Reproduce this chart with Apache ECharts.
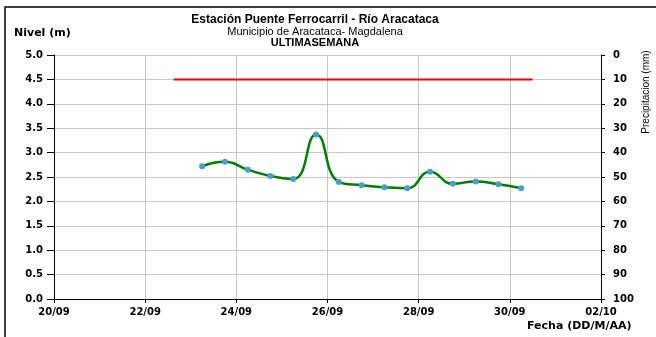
<!DOCTYPE html>
<html>
<head>
<meta charset="utf-8">
<script src="https://cdn.jsdelivr.net/npm/echarts@6/dist/echarts.min.js"></script>
<style>
  html, body { margin: 0; padding: 0; background: #fff; }
  #chart { width: 656px; height: 337px; }
</style>
</head>
<body>
<div id="chart"></div>
<script>
// nivel del rio cada 12 h
const levelTimes = ['23/09 06:00', '23/09 18:00', '24/09 06:00', '24/09 18:00', '25/09 06:00',
  '25/09 18:00', '26/09 06:00', '26/09 18:00', '27/09 06:00', '27/09 18:00',
  '28/09 06:00', '28/09 18:00', '29/09 06:00', '29/09 18:00', '30/09 06:00']
const levelValues = [2.72, 2.81, 2.65, 2.52, 2.46, 3.37, 2.40, 2.33, 2.29, 2.27, 2.61, 2.36, 2.41, 2.35, 2.27]

// linea roja (nivel de alerta)
const alertTimes = ['22/09 15:00', '30/09 12:00']
const alertValues = [4.5, 4.5]

const dateTicks = ['20/09', '22/09', '24/09', '26/09', '28/09', '30/09', '02/10']

// dias desde el 20/09
function toDays(s) {
  const [d, h] = s.split(' ')
  const [day, month] = d.split('/').map(Number)
  const [hh, mm] = h.split(':').map(Number)
  const base = month === 9 ? day - 20 : 10 + day
  return base + (hh + mm / 60) / 24
}

const FONT = 'DejaVu Sans'
const labelStyle = { color: '#000', fontFamily: FONT, fontWeight: 'bold', fontSize: 10 }

const chart = echarts.init(document.getElementById('chart'), null, { renderer: 'canvas' })
chart.setOption({
  animation: false,
  backgroundColor: '#fff',
  title: [
    { text: 'Estación Puente Ferrocarril - Río Aracataca', left: 310, top: 9, textAlign: 'center',
      textStyle: { fontFamily: 'Liberation Sans', fontWeight: 'bold', fontSize: 12, color: '#000' } },
    { text: 'Municipio de Aracataca- Magdalena', left: 310, top: 21, textAlign: 'center',
      textStyle: { fontFamily: 'Liberation Sans', fontWeight: 'normal', fontSize: 11, color: '#000' } },
    { text: 'ULTIMASEMANA', left: 310, top: 32, textAlign: 'center',
      textStyle: { fontFamily: 'Liberation Sans', fontWeight: 'bold', fontSize: 11, color: '#000' } }
  ],
  graphic: [
    { type: 'rect', shape: { x: 5, y: 7, width: 800, height: 500 },
      style: { fill: 'none', stroke: '#000', lineWidth: 1.5 }, silent: true },
    { type: 'text', left: 14, top: 28, style: { text: 'Nivel (m)', fill: '#000', font: 'bold 11px "DejaVu Sans"' } },
    { type: 'text', left: 527, top: 321, style: { text: 'Fecha (DD/M/AA)', fill: '#000', font: 'bold 11px "DejaVu Sans"' } },
    { type: 'text', x: 646, y: 92, rotation: Math.PI / 2,
      style: { text: 'Precipitacion (mm)', fill: '#000', font: '10px "Liberation Sans"', align: 'center', verticalAlign: 'middle' } }
  ],
  grid: { left: 54, right: 55, top: 55, bottom: 38 },
  xAxis: {
    type: 'value', min: 0, max: 12, interval: 2,
    axisLine: { lineStyle: { color: '#000', width: 1 } },
    axisTick: { show: true, length: 4, lineStyle: { color: '#000' } },
    axisLabel: { ...labelStyle, margin: 8, formatter: v => dateTicks[v / 2] },
    splitLine: { show: true, lineStyle: { color: '#c8c8c8', width: 1 } }
  },
  yAxis: [
    {
      type: 'value', min: 0, max: 5, interval: 0.5,
      axisLine: { show: true, lineStyle: { color: '#000', width: 1 } },
      axisTick: { show: true, length: 7, lineStyle: { color: '#000' } },
      axisLabel: { ...labelStyle, margin: 11, formatter: v => v.toFixed(1) },
      splitLine: { show: true, lineStyle: { color: '#c8c8c8', width: 1 } }
    },
    {
      type: 'value', min: 0, max: 100, interval: 10, inverse: true, position: 'right',
      axisLine: { show: true, lineStyle: { color: '#000', width: 1 } },
      axisTick: { show: true, length: 4, lineStyle: { color: '#000' } },
      axisLabel: { ...labelStyle, margin: 12 },
      splitLine: { show: false }
    }
  ],
  series: [
    {
      name: 'Alerta', type: 'line', yAxisIndex: 0,
      data: alertTimes.map((t, i) => [toDays(t), alertValues[i]]),
      showSymbol: false, lineStyle: { color: '#ff0000', width: 2 }, z: 3
    },
    {
      name: 'Nivel', type: 'line', yAxisIndex: 0,
      data: levelTimes.map((t, i) => [toDays(t), levelValues[i]]),
      smooth: 0.5,
      symbol: 'circle', symbolSize: 6,
      itemStyle: { color: '#4a9fc8' },
      lineStyle: { color: '#008000', width: 2.5 }, z: 4
    }
  ]
})
</script>
</body>
</html>
